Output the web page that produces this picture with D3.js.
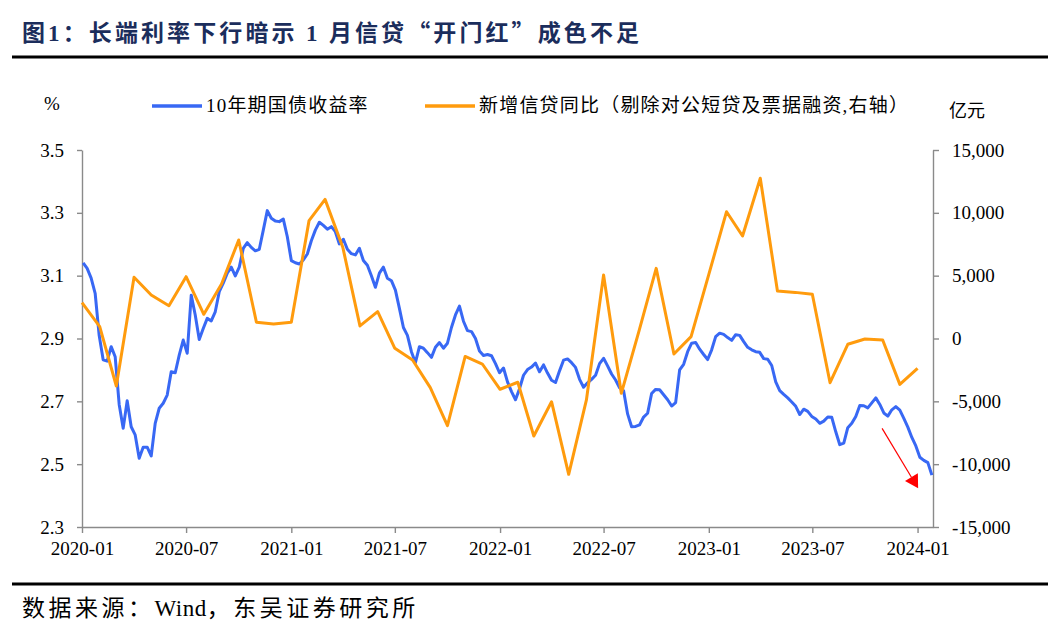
<!DOCTYPE html>
<html>
<head>
<meta charset="utf-8">
<script src="https://cdn.jsdelivr.net/npm/d3@7"></script>
<style>
  body { margin: 0; background: #fff; }
  text { font-family: "Liberation Serif", "Noto Sans CJK SC", serif; }
</style>
</head>
<body>
<svg width="1060" height="634"></svg>
<script>
// 10年期国债收益率, weekly (Fridays from 2020-01-03), %
const yieldValues = [
  3.141, 3.123, 3.092, 3.044, 2.910, 2.832, 2.828, 2.874, 2.842, 2.690,
  2.614, 2.702, 2.619, 2.593, 2.519, 2.554, 2.554, 2.526, 2.630, 2.678,
  2.694, 2.720, 2.794, 2.791, 2.847, 2.895, 2.853, 3.038, 2.975, 2.897,
  2.932, 2.964, 2.956, 2.985, 3.049, 3.076, 3.108, 3.127, 3.099, 3.127,
  3.187, 3.205, 3.190, 3.179, 3.184, 3.245, 3.307, 3.283, 3.274, 3.272,
  3.280, 3.224, 3.148, 3.141, 3.137, 3.150, 3.169, 3.211, 3.245, 3.270,
  3.260, 3.248, 3.256, 3.240, 3.201, 3.216, 3.184, 3.170, 3.166, 3.187,
  3.148, 3.133, 3.100, 3.063, 3.108, 3.127, 3.092, 3.084, 3.054, 2.996,
  2.935, 2.910, 2.858, 2.823, 2.874, 2.869, 2.855, 2.840, 2.872, 2.887,
  2.869, 2.885, 2.935, 2.975, 3.003, 2.955, 2.925, 2.922, 2.900, 2.860,
  2.846, 2.849, 2.845, 2.820, 2.791, 2.806, 2.762, 2.731, 2.705, 2.740,
  2.783, 2.801, 2.809, 2.822, 2.794, 2.816, 2.790, 2.767, 2.760, 2.797,
  2.831, 2.835, 2.823, 2.808, 2.770, 2.745, 2.759, 2.770, 2.783, 2.820,
  2.837, 2.813, 2.787, 2.768, 2.743, 2.734, 2.660, 2.619, 2.620, 2.625,
  2.650, 2.662, 2.725, 2.738, 2.737, 2.721, 2.705, 2.685, 2.696, 2.800,
  2.818, 2.858, 2.885, 2.887, 2.866, 2.849, 2.833, 2.864, 2.906, 2.917,
  2.913, 2.903, 2.894, 2.912, 2.910, 2.890, 2.872, 2.864, 2.858, 2.856,
  2.836, 2.834, 2.814, 2.762, 2.734, 2.722, 2.711, 2.698, 2.684, 2.658,
  2.675, 2.668, 2.652, 2.644, 2.630, 2.637, 2.650, 2.649, 2.603, 2.562,
  2.567, 2.616, 2.630, 2.652, 2.687, 2.686, 2.679, 2.695, 2.711, 2.690,
  2.663, 2.653, 2.673, 2.683, 2.672, 2.646, 2.618, 2.585, 2.558, 2.522,
  2.512, 2.505, 2.465
];

// 新增信贷同比（剔除对公短贷及票据融资）, monthly 2020-01 .. 2024-01, 亿元
const creditValues = [
   2850,   940, -3780,  4870,  3460,  2610,  4920,  1925,  4340,  7840,  1290,  1150,
   1290,  9380, 11070,  7260,  1000,  2140,  -780, -1710, -3910, -6940, -1430, -2030,
  -4040, -3480, -7760, -5030,-10810, -4890,  5050, -4360,   600,  5580, -1230,   150,
   5100, 10090,  8160, 12750,  3780,  3670,  3520, -3520,  -460,   -40,  -120, -3650,
  -2370
];

const xTickLabels = ["2020-01", "2020-07", "2021-01", "2021-07", "2022-01",
                     "2022-07", "2023-01", "2023-07", "2024-01"];
const leftTicks = [2.3, 2.5, 2.7, 2.9, 3.1, 3.3, 3.5];
const rightTicks = [-15000, -10000, -5000, 0, 5000, 10000, 15000];

// red arrow annotation (date, yield)
const arrowFrom = ["2023-10-31", 2.614];
const arrowTo = ["2024-01-02", 2.423];

const parseMonth = d3.timeParse("%Y-%m");
const parseDay = d3.timeParse("%Y-%m-%d");
const yieldDates = d3.timeFriday.range(new Date(2020, 0, 3), new Date(2024, 0, 27));
const creditDates = d3.timeMonth.range(new Date(2020, 0, 1), new Date(2024, 1, 1));

const svg = d3.select("svg");
const plot = {left: 82, right: 933, top: 150, bottom: 527};
const axisColor = "#8a8a8a";
const blue = "#3868f4";
const orange = "#ff9b0d";
const cjk = "Noto Sans CJK SC";

const x = d3.scaleTime()
  .domain([new Date(2020, 0, 1), new Date(2024, 0, 28)])
  .range([plot.left, plot.right]);
const yL = d3.scaleLinear().domain([2.3, 3.5]).range([plot.bottom, plot.top]);
const yR = d3.scaleLinear().domain([-15000, 15000]).range([plot.bottom, plot.top]);

// title
const title = svg.append("text")
  .attr("x", 22).attr("y", 41)
  .attr("font-size", 23).attr("font-weight", "bold")
  .attr("letter-spacing", 3.1)
  .attr("fill", "#1b2d5c");
[["图", cjk], ["1", null], ["：长端利率下行暗示 ", cjk], ["1", null],
 [" 月信贷“开门红”成色不足", cjk]].forEach(([t, f]) => {
  const s = title.append("tspan").text(t);
  if (f) s.attr("font-family", f);
});

svg.append("line")
  .attr("x1", 12).attr("x2", 1048).attr("y1", 57).attr("y2", 57)
  .attr("stroke", "#000").attr("stroke-width", 3);

// axes
const styleAxis = g => {
  g.select(".domain").attr("stroke", axisColor).attr("stroke-width", 1.4);
  g.selectAll(".tick line").attr("stroke", axisColor).attr("stroke-width", 1.4);
  g.selectAll(".tick text").attr("fill", "#000").attr("font-size", 19)
    .attr("font-family", "Liberation Serif, serif");
};

svg.append("g")
  .attr("transform", `translate(${plot.left},0)`)
  .call(d3.axisLeft(yL).tickValues(leftTicks).tickFormat(d3.format(".1f"))
    .tickSize(5).tickSizeOuter(0).tickPadding(13))
  .call(styleAxis);

svg.append("g")
  .attr("transform", `translate(${plot.right},0)`)
  .call(d3.axisRight(yR).tickValues(rightTicks)
    .tickFormat(d => d3.format(",")(d).replace("\u2212", "-"))
    .tickSize(6).tickSizeOuter(0).tickPadding(13))
  .call(styleAxis);

svg.append("g")
  .attr("transform", `translate(0,${plot.bottom})`)
  .call(d3.axisBottom(x).tickValues(xTickLabels.map(parseMonth))
    .tickFormat(d3.timeFormat("%Y-%m")).tickSize(6).tickSizeOuter(0).tickPadding(9))
  .call(styleAxis);

// lines
const yieldLine = d3.line()
  .x((d, i) => x(yieldDates[i]))
  .y(d => yL(d));
const creditLine = d3.line()
  .x((d, i) => x(creditDates[i]))
  .y(d => yR(d));

svg.append("path")
  .datum(yieldValues)
  .attr("fill", "none").attr("stroke", blue).attr("stroke-width", 3)
  .attr("stroke-linejoin", "round")
  .attr("d", yieldLine);

svg.append("path")
  .datum(creditValues)
  .attr("fill", "none").attr("stroke", orange).attr("stroke-width", 3)
  .attr("stroke-linejoin", "round")
  .attr("d", creditLine);

// arrow
const ax1 = x(parseDay(arrowFrom[0])), ay1 = yL(arrowFrom[1]);
const ax2 = x(parseDay(arrowTo[0])), ay2 = yL(arrowTo[1]);
const len = Math.hypot(ax2 - ax1, ay2 - ay1);
const ux = (ax2 - ax1) / len, uy = (ay2 - ay1) / len;
const headLen = 13, headHalf = 7.5;
const bx = ax2 - ux * headLen, by = ay2 - uy * headLen;
svg.append("line")
  .attr("x1", ax1).attr("y1", ay1).attr("x2", bx).attr("y2", by)
  .attr("stroke", "#ff0000").attr("stroke-width", 1.2);
svg.append("polygon")
  .attr("points", [
    [ax2, ay2],
    [bx - uy * headHalf, by + ux * headHalf],
    [bx + uy * headHalf, by - ux * headHalf]
  ].map(p => p.join(",")).join(" "))
  .attr("fill", "#ff0000");

// unit labels
svg.append("text").attr("x", 44).attr("y", 110).attr("font-size", 19).text("%");
svg.append("text").attr("x", 949).attr("y", 117).attr("font-size", 18).text("亿元");

// legend
const legend = [
  {label: "10年期国债收益率", color: blue, x: 152},
  {label: "新增信贷同比（剔除对公短贷及票据融资,右轴）", color: orange, x: 425}
];
legend.forEach(l => {
  svg.append("line")
    .attr("x1", l.x).attr("x2", l.x + 50).attr("y1", 106).attr("y2", 106)
    .attr("stroke", l.color).attr("stroke-width", 3.5);
  svg.append("text")
    .attr("x", l.x + 54).attr("y", 112)
    .attr("font-size", 19).attr("letter-spacing", 1.2)
    .text(l.label);
});

// footer
svg.append("line")
  .attr("x1", 12).attr("x2", 1048).attr("y1", 584).attr("y2", 584)
  .attr("stroke", "#000").attr("stroke-width", 3);
const footer = svg.append("text")
  .attr("x", 22).attr("y", 616)
  .attr("font-size", 23);
footer.append("tspan").attr("letter-spacing", 3.5).text("数据来源：");
footer.append("tspan").attr("letter-spacing", 0.5).text("Wind");
footer.append("tspan").attr("letter-spacing", 3.5).text("，东吴证券研究所");
</script>
</body>
</html>
